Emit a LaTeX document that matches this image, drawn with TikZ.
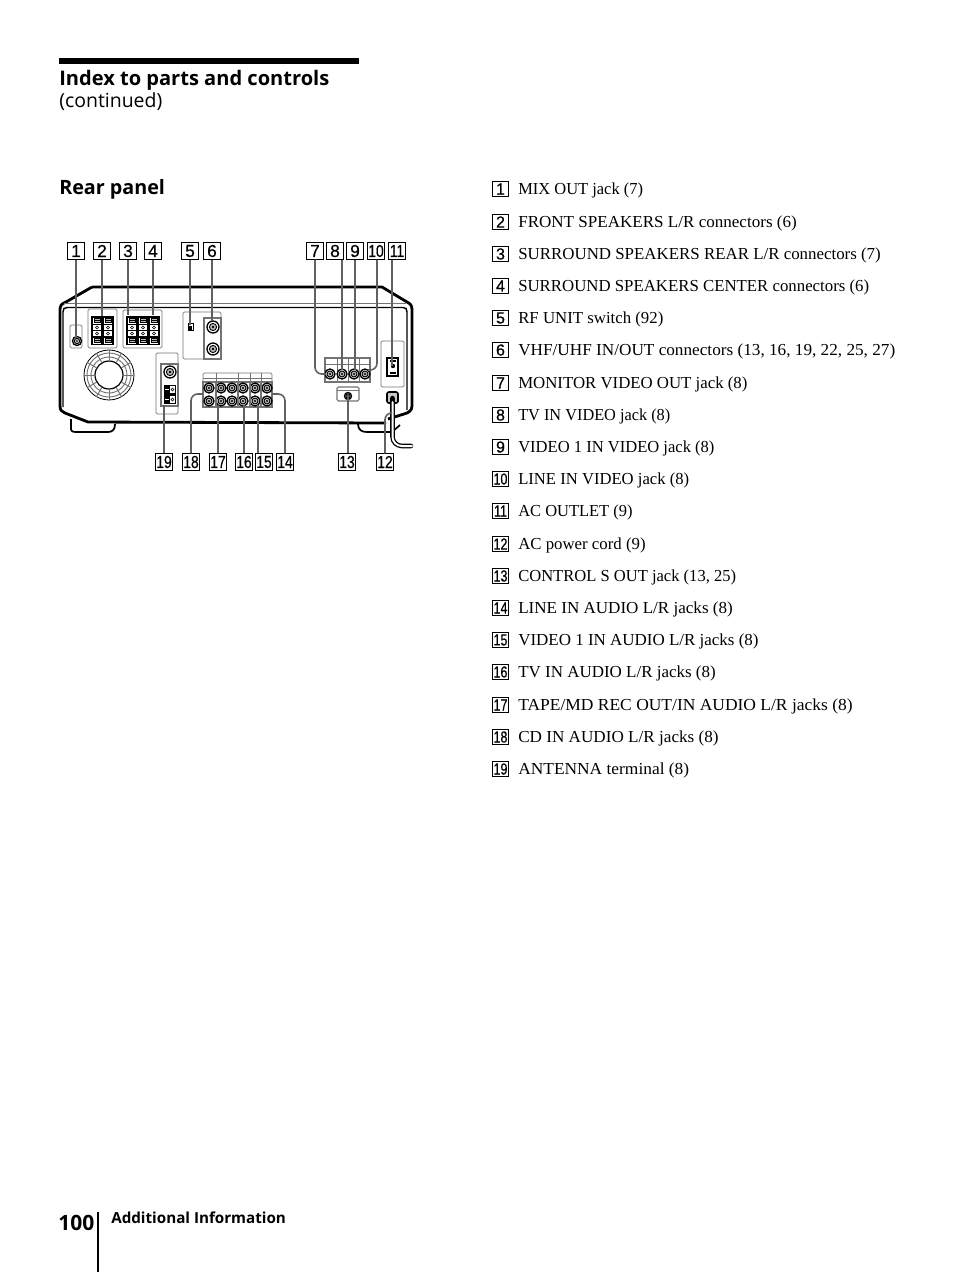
\documentclass[tikz,border=0pt]{standalone}
\usepackage{fontspec}
\usepackage{graphicx}
\setmainfont{Liberation Serif}
\newfontfamily\headf{Open Sans}[BoldFont={Open Sans Bold}]
\newfontfamily\tagf{Liberation Sans}[RawFeature={embolden=0.5}]
\definecolor{lead}{gray}{0.38}
\definecolor{pan}{gray}{0.45}
\tikzset{
  numbox/.style={draw=black,line width=0.6pt,fill=white,minimum width=12.5pt,minimum height=12.5pt,inner sep=0pt,font=\tagf\fontsize{13}{14}\selectfont},
  listbox/.style={numbox,minimum width=11.5pt,minimum height=11.5pt,font=\tagf\fontsize{12}{13}\selectfont},
  itemtext/.style={anchor=base west,inner sep=0pt,font=\fontsize{12.6}{14}\selectfont},
  headtext/.style={anchor=base west,inner sep=0pt},
  leader/.style={draw=lead,line width=1.2pt,rounded corners=5pt},
  panel/.style={draw=pan,line width=0.6pt,rounded corners=1pt},
  body/.style={draw=black,line width=2.1pt,line join=round},
  thinbody/.style={draw=black,line width=1.1pt},
  blockb/.style={draw=pan,fill=white,line width=1pt},
}
\newcommand{\RJack}[3]{%
  \draw[black,fill=white,line width=1pt] (#1,#2) circle (#3);
  \draw[black,fill=pan!50,line width=0.7pt] (#1,#2) circle (#3*0.6);
  \fill[black] (#1,#2) circle (#3*0.22);}
\newcommand{\RTermCol}[2]{%
  \fill[white] (#1-4,#2+1) rectangle (#1+4,#2+27);
  \draw[black,line width=0.5pt,fill=pan!50] (#1-3,#2+2) rectangle (#1+3,#2+6);
  \draw[black,line width=0.4pt] (#1-3,#2+4) -- (#1+3,#2+4);
  \draw[black,line width=0.5pt,fill=pan!50] (#1-3,#2+22) rectangle (#1+3,#2+26);
  \draw[black,line width=0.4pt] (#1-3,#2+24) -- (#1+3,#2+24);
  \fill[black] (#1-4,#2+7) rectangle (#1+4,#2+8.5);
  \fill[black] (#1-4,#2+19.5) rectangle (#1+4,#2+21);
  \draw[black,line width=0.4pt] (#1,#2+11) circle (1.5);
  \draw[black,line width=0.4pt] (#1,#2+17) circle (1.5);
  \fill[black] (#1-4,#2+13.6) rectangle (#1+4,#2+14.4);}
\newcommand{\RItem}[3]{%
  \node[listbox] (b#1) at (500.5,#2) {\ifnum#1>9 \scalebox{0.78}[1]{#1}\else #1\fi};
  \node[itemtext] (i#1) at (518,#2+5) {#3};}
\begin{document}
\begin{tikzpicture}[x=0.75pt,y=-0.75pt]
\useasboundingbox (0,0) rectangle (954,1272);
% header
\fill[black] (59,58) rectangle (359,64);
\node[headtext,font=\headf\bfseries\fontsize{15.05}{16}\selectfont] (title) at (59,85) {Index to parts and controls};
\node[headtext,font=\headf\fontsize{14.6}{16}\selectfont] (cont) at (59,107) {(continued)};
\node[headtext,font=\headf\bfseries\fontsize{14.8}{16}\selectfont] (rear) at (59,194) {Rear panel};
% footer
\draw[black,line width=1.5pt] (98,1212) -- (98,1272);
\node[headtext,font=\headf\bfseries\fontsize{15.8}{18}\selectfont] (pg) at (58,1230) {100};
\node[headtext,font=\headf\bfseries\fontsize{11.4}{13}\selectfont] (sect) at (111,1223) {Additional Information};
% list
\RItem{1}{189}{\scalebox{0.98}[1]{MIX OUT jack (7)}}
\RItem{2}{222}{\scalebox{1.015}[1]{FRONT SPEAKERS L/R connectors (6)}}
\RItem{3}{254}{\scalebox{1.005}[1]{SURROUND SPEAKERS REAR L/R connectors (7)}}
\RItem{4}{286}{SURROUND SPEAKERS CENTER connectors (6)}
\RItem{5}{318}{RF UNIT switch (92)}
\RItem{6}{350}{\scalebox{1.024}[1]{VHF/UHF IN/OUT connectors (13, 16, 19, 22, 25, 27)}}
\RItem{7}{383}{MONITOR VIDEO OUT jack (8)}
\RItem{8}{415}{\scalebox{0.97}[1]{TV IN VIDEO jack (8)}}
\RItem{9}{447}{\scalebox{0.985}[1]{VIDEO 1 IN VIDEO jack (8)}}
\RItem{10}{479}{\scalebox{0.99}[1]{LINE IN VIDEO jack (8)}}
\RItem{11}{511}{\scalebox{0.98}[1]{AC OUTLET (9)}}
\RItem{12}{544}{AC power cord (9)}
\RItem{13}{576}{\scalebox{0.985}[1]{CONTROL S OUT jack (13, 25)}}
\RItem{14}{608}{\scalebox{1.015}[1]{LINE IN AUDIO L/R jacks (8)}}
\RItem{15}{640}{\scalebox{1.01}[1]{VIDEO 1 IN AUDIO L/R jacks (8)}}
\RItem{16}{672}{\scalebox{1.01}[1]{TV IN AUDIO L/R jacks (8)}}
\RItem{17}{705}{\scalebox{1.04}[1]{TAPE/MD REC OUT/IN AUDIO L/R jacks (8)}}
\RItem{18}{737}{\scalebox{1.02}[1]{CD IN AUDIO L/R jacks (8)}}
\RItem{19}{769}{\scalebox{1.035}[1]{ANTENNA terminal (8)}}
% feet
\draw[thinbody,line width=1.3pt,fill=white] (71,419) -- (71,429) .. controls (71,432) and (74,432) .. (78,432) -- (108,432) .. controls (113,432) and (115,429) .. (115,424);
\draw[thinbody,line width=1.3pt,fill=white] (358,424) .. controls (358,430) and (362,432) .. (367,432) -- (392,432) -- (400,425);
% chassis
\draw[body] (92,287) -- (382,287) -- (407,302) .. controls (411,304) and (412,306) .. (412,310) -- (412,406) .. controls (412,411) and (408,413) .. (404,414) -- (388,419);
\draw[body] (92,287) -- (66,302) .. controls (61,304) and (60,306) .. (60,310) -- (60,406) .. controls (60,410) and (62,412) .. (65,413) -- (88,422) -- (386,423);
\draw[draw=pan,line width=0.6pt] (64,303) -- (406,303);
\draw[thinbody] (63,407) -- (63,312) .. controls (63,309) and (64,307.5) .. (67,307.5) -- (403,307.5) .. controls (406,307.5) and (407,309) .. (407,312) -- (407,410);
% fan
\draw[black,line width=0.6pt,fill=white] (109,375) circle (25);
\draw[draw=pan,line width=0.7pt] (109,375) circle (22);
\draw[draw=pan,line width=0.7pt] (109,375) circle (18);
\draw[black,line width=0.9pt] (109,375) circle (14);
\foreach \a in {0,30,...,330}{ \draw[draw=pan,line width=0.7pt] (109,375) ++(\a:14) -- ++(\a:11); }
% panel 1
\draw[panel] (70,348) rectangle (82,325);
\RJack{77}{341}{4.5}
% panel 2
\draw[panel] (88,309) rectangle (117,348);
\fill[black] (91,316) rectangle (114,345);
\RTermCol{97}{316.5}
\RTermCol{108}{316.5}
% panel 3-4
\draw[panel] (123,310) rectangle (162,348);
\fill[black] (126,316) rectangle (160,345);
\RTermCol{132}{316.5}
\RTermCol{143}{316.5}
\RTermCol{154}{316.5}
% panel 5-6
\draw[panel] (183,312) rectangle (221,359);
\draw[black,line width=0.5pt] (188,323) rectangle (193,330);
\fill[black] (189,326) rectangle (192,330);
\draw[blockb] (204,318) rectangle (221,359);
\RJack{213}{327}{6}
\RJack{213}{349}{6}
% panel 19
\draw[panel] (156,353) rectangle (178,414);
\draw[blockb] (161,364) rectangle (178,406);
\RJack{170}{372}{6}
\fill[black] (164,385) rectangle (176,404);
\foreach \yy in {390,400}{ \fill[white] (170,\yy-4) rectangle (175,\yy+3); \draw[black,line width=0.4pt] (172.5,\yy-.5) circle (1.5); \draw[white,line width=0.4pt] (165,\yy-1) -- (169,\yy-1);}
% audio block
\draw[panel] (203,382) -- (203,373) -- (272,373) -- (272,382);
\draw[panel] (203,378) -- (272,378);
\foreach \xx in {216,238,250,261}{ \draw[panel] (\xx,373) -- (\xx,382); }
\draw[blockb] (203,382) rectangle (272,407);
\foreach \xx in {209,221,232,243,255,267}{ \RJack{\xx}{388}{5} \RJack{\xx}{401}{5} }
\foreach \xx in {216,238,250,261}{ \draw[draw=pan,line width=1pt] (\xx,382) -- (\xx,407); }
% video block
\draw[blockb] (325,358) rectangle (370,382);
\draw[panel] (325,364) -- (370,364);
\foreach \xx in {337,348,359}{ \draw[panel] (\xx,358) -- (\xx,382); }
\foreach \xx in {330,342,354,365}{ \RJack{\xx}{374}{5} }
% control S
\draw[panel,line width=0.8pt] (337,387) rectangle (359,401);
\draw[panel] (337,390) -- (359,390);
\RJack{348}{396}{3.5}
% outlet
\draw[panel] (381,341) rectangle (404,387);
\draw[black,line width=0.9pt] (387,358) rectangle (398,376);
\fill[black] (393,366) circle (2.2);
\fill[black] (390,372) rectangle (396,374);
\fill[black] (390,359.5) rectangle (396,361.5);
% plug and cord
\draw[black,line width=1.2pt,fill=pan!40,rounded corners=1.5pt] (387,392) rectangle (398,403);
\draw[black,line width=3.4pt,line cap=round,rounded corners=7pt] (392.5,398) -- (392.5,446) -- (411,446);
\draw[white,line width=1.5pt,line cap=round,rounded corners=7pt] (392.5,402) -- (392.5,446) -- (412,446);
% callouts
\foreach \n/\x in {1/76,2/102,3/128,4/153,5/190,6/212,7/315,8/335,9/355}{
  \node[numbox] (t\n) at (\x,251) {\n};
}
\node[numbox] (t10) at (376,251) {\scalebox{0.8}[1]{10}};
\node[numbox] (t11) at (397,251) {\scalebox{0.8}[1]{11}};
\foreach \n/\x in {19/164,18/191,17/218,16/244,15/264,14/285,13/347,12/385}{
  \node[numbox] (t\n) at (\x,462) {\scalebox{0.8}[1]{\n}};
}
% leader ends
\foreach \n/\x/\y in {1/76/338,2/102/316,3/128/315,4/153/315,5/190/325,6/213/321,8/342/370,9/354/370,11/392/366,
 19/164/405,17/218/405,16/244/405,15/258/405,13/348/395}{
  \coordinate (e\n) at (\x,\y);
}
\coordinate (e7) at (326,374);
\coordinate (e10) at (368,370);
\coordinate (e18) at (203,394);
\coordinate (e14) at (272,394);
\coordinate (e12) at (392,413);
% leaders: the free end sits on the part that the callout names
\foreach \n in {1,2,3,4,5,6,9}{ \draw[leader] (t\n.south) -- (t\n.south |- e\n); }
\foreach \n in {19,17,16}{ \draw[leader] (t\n.north) -- (t\n.north |- e\n); }
\draw[leader] ([xshift=-3.75pt]t11.south) -- ([xshift=-3.75pt]t11.south |- e11);
\draw[leader] ([xshift=-4.5pt]t15.north) -- ([xshift=-4.5pt]t15.north |- e15);
\draw[leader] ([xshift=0.75pt]t13.north) -- ([xshift=0.75pt]t13.north |- e13);
\draw[leader] (t7.south) -- (t7.south |- e7) -- (e7);
\draw[leader] ([xshift=5.25pt]t8.south) -- ([xshift=5.25pt]t8.south |- e8);
\draw[leader] ([xshift=0.75pt]t10.south) -- ([xshift=0.75pt]t10.south |- e10) -- (e10);
\draw[leader] (t18.north) -- (t18.north |- e18) -- (e18);
\draw[leader] (t14.north) -- (t14.north |- e14) -- (e14);
\draw[leader] (t12.north) -- (t12.north |- e12) -- (e12);
\end{tikzpicture}
\end{document}
